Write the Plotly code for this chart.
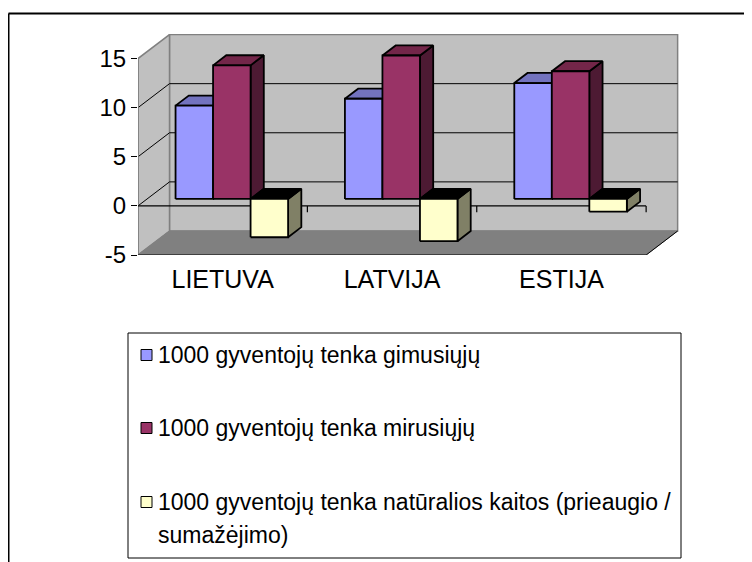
import plotly.graph_objects as go

# ---------------- data ----------------
countries = ["LIETUVA", "LATVIJA", "ESTIJA"]
series_names = [
    "1000 gyventojų tenka gimusiųjų",
    "1000 gyventojų tenka mirusiųjų",
    "1000 gyventojų tenka natūralios kaitos (prieaugio /",
]
series_name_cont = ["", "", "sumažėjimo)"]
births = [9.5, 10.2, 11.8]
deaths = [13.6, 14.6, 13.0]
natural = [-3.9, -4.3, -1.3]
y_ticks = [-5, 0, 5, 10, 15]

series = [births, deaths, natural]
front_colors = ["#9999FF", "#993366", "#FFFFCC"]
top_colors = ["#7373BF", "#732649", "#000000"]
side_colors = ["#4D4D80", "#4D1A33", "#808066"]

# ---------------- geometry ----------------
OFF = 8                       # page body margin
W, H = 752 - OFF, 562 - OFF
ML, MR, MT, MB = 138 - OFF, 72, 34 - OFF, 307
XR = [0, 3.2]
YR = [-5, 17.5]
YMIN, YMAX = -5, 15
NCAT = len(countries)
DX, DY = 0.186, 2.444        # depth of the 3D box in axis units
F0, FD = 0.29, 0.42          # bar front depth fraction, bar depth fraction
BAR_W = 0.2215
PW = W - ML - MR
PH = H - MT - MB
FONT = "Liberation Sans, Arial, sans-serif"


def px2paper(px, py):
    px -= OFF
    py -= OFF
    return (px - ML) / PW, (H - MB - py) / PH


def path(pts):
    return "M " + " L ".join(f"{x},{y}" for x, y in pts) + " Z"


shapes = []


def poly(pts, fill, line="#808080", lw=1.5, layer="below"):
    shapes.append(dict(type="path", path=path(pts), xref="x", yref="y",
                       fillcolor=fill, line=dict(color=line, width=lw), layer=layer))


def seg(x0, y0, x1, y1, color="black", lw=1, layer="below"):
    shapes.append(dict(type="line", x0=x0, y0=y0, x1=x1, y1=y1, xref="x", yref="y",
                       line=dict(color=color, width=lw), layer=layer))


# walls and floor
poly([(DX, YMIN + DY), (NCAT + DX, YMIN + DY), (NCAT + DX, YMAX + DY), (DX, YMAX + DY)], "#C0C0C0")
poly([(0, YMIN), (DX, YMIN + DY), (DX, YMAX + DY), (0, YMAX)], "#C0C0C0")
poly([(0, YMIN), (NCAT, YMIN), (NCAT + DX, YMIN + DY), (DX, YMIN + DY)], "#808080", line="#808080", lw=1)

# gridlines
for v in y_ticks[1:-1]:
    seg(DX, v + DY, NCAT + DX, v + DY, "#000000", 1)
    seg(0, v, DX, v + DY, "#000000", 1)

# value axis line (front edge of side wall)
seg(0, YMIN, 0, YMAX, "#808080", 1.5)
# zero plane category axis with tick marks
seg(0, 0, NCAT, 0, "black", 1.2)
for i in range(1, NCAT + 1):
    seg(i, 0, i, -0.65, "black", 1.2)

# front floor edge (above the bars)
seg(0, YMIN, NCAT, YMIN, "black", 1.2, "above")
for i in range(1, NCAT + 1):
    seg(i, YMIN, i, YMIN - 0.7, "black", 1.2, "above")
seg(NCAT, YMIN, NCAT + DX, YMIN + DY, "black", 1, "above")

fig = go.Figure()


def add_face(pts, color):
    xs = [p[0] for p in pts] + [pts[0][0]]
    ys = [p[1] for p in pts] + [pts[0][1]]
    fig.add_trace(go.Scatter(x=xs, y=ys, mode="lines", fill="toself", fillcolor=color,
                             line=dict(color="black", width=1.8), hoverinfo="skip",
                             showlegend=False))


ox, oy = F0 * DX, F0 * DY
dx, dy = FD * DX, FD * DY
group_w = BAR_W * len(series)
for i in range(NCAT):
    for j, vals in enumerate(series):
        v = vals[i]
        x0 = i + 0.5 - group_w / 2 + j * BAR_W + ox
        x1 = x0 + BAR_W
        yb = oy
        yt = v + oy
        hi, lo = max(yb, yt), min(yb, yt)
        add_face([(x1, lo), (x1, hi), (x1 + dx, hi + dy), (x1 + dx, lo + dy)], side_colors[j])
        add_face([(x0, hi), (x1, hi), (x1 + dx, hi + dy), (x0 + dx, hi + dy)], top_colors[j])
        add_face([(x0, lo), (x1, lo), (x1, hi), (x0, hi)], front_colors[j])

# ---------------- legend (drawn) ----------------
annotations = []
lx0, ly0 = px2paper(128, 333)
lx1, ly1 = px2paper(681, 558)
shapes.append(dict(type="rect", xref="paper", yref="paper", x0=lx0, y0=ly1, x1=lx1, y1=ly0,
                   line=dict(color="black", width=1), fillcolor="white", layer="above"))
rows_y = [355, 428, 502]
for j in range(len(series)):
    sx0, sy0 = px2paper(141, rows_y[j] - 5.5)
    sx1, sy1 = px2paper(152, rows_y[j] + 5.5)
    shapes.append(dict(type="rect", xref="paper", yref="paper", x0=sx0, y0=sy1, x1=sx1, y1=sy0,
                       line=dict(color="black", width=1), fillcolor=front_colors[j], layer="above"))
    tx, ty = px2paper(156, rows_y[j])
    annotations.append(dict(x=tx, y=ty, xref="paper", yref="paper", xanchor="left", yanchor="middle",
                            text=series_names[j], showarrow=False,
                            font=dict(size=23, color="black", family=FONT)))
    if series_name_cont[j]:
        tx2, ty2 = px2paper(156, rows_y[j] + 33)
        annotations.append(dict(x=tx2, y=ty2, xref="paper", yref="paper", xanchor="left",
                                yanchor="middle", text=series_name_cont[j], showarrow=False,
                                font=dict(size=23, color="black", family=FONT)))

# outer frame
fx0, fy0 = px2paper(8.5, 13.5)
fx1, fy1 = px2paper(770, 580)
shapes.append(dict(type="line", xref="paper", yref="paper", x0=fx0, y0=fy0, x1=fx1, y1=fy0,
                   line=dict(color="black", width=2)))
shapes.append(dict(type="line", xref="paper", yref="paper", x0=fx0, y0=fy0, x1=fx0, y1=fy1,
                   line=dict(color="black", width=2)))

fig.update_layout(
    width=W, height=H,
    margin=dict(l=ML, r=MR, t=MT, b=MB, pad=0),
    paper_bgcolor="white", plot_bgcolor="white",
    showlegend=False,
    font=dict(family=FONT, color="black"),
    shapes=shapes,
    annotations=annotations,
    xaxis=dict(range=XR, tickvals=[i + 0.5 for i in range(NCAT)], ticktext=countries,
               showgrid=False, zeroline=False, showline=False, ticks="",
               tickfont=dict(size=25, family=FONT, color="black"), ticklabelstandoff=7,
               fixedrange=True),
    yaxis=dict(range=YR, tickvals=y_ticks, ticktext=[str(t) for t in y_ticks],
               showgrid=False, zeroline=False, showline=False, ticks="outside",
               ticklen=6, tickcolor="black", tickwidth=1.2,
               tickfont=dict(size=24, family=FONT, color="black"), fixedrange=True),
)

fig.write_html("out.html")
